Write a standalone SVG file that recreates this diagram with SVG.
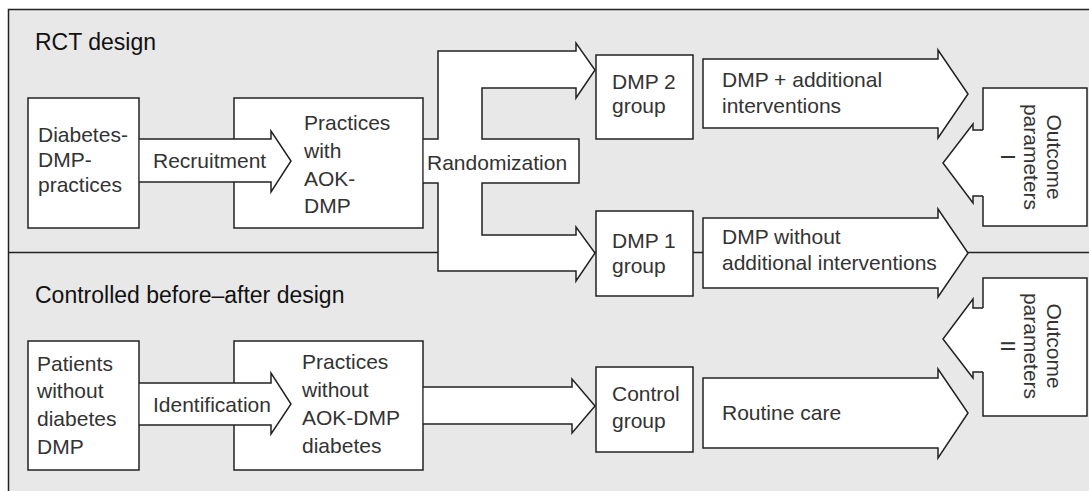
<svg xmlns="http://www.w3.org/2000/svg" width="1089" height="491" viewBox="0 0 1089 491">
<style>
.panel{fill:#e8e8e8;stroke:#222;stroke-width:1.5}
.box{fill:#fff;stroke:#222;stroke-width:1.5}
.afill{fill:#fff;stroke:none}
.aline{fill:none;stroke:#222;stroke-width:1.5;stroke-linejoin:miter}
.arrow{fill:#fff;stroke:#222;stroke-width:1.5;stroke-linejoin:miter}
.t{font-family:"Liberation Sans",Arial,Helvetica,sans-serif;font-size:21px;fill:#333}
.h{font-family:"Liberation Sans",Arial,Helvetica,sans-serif;font-size:23px;fill:#111}
</style>
<rect class="panel" x="8.5" y="9.5" width="1100" height="500"/>
<line x1="8.5" y1="252.5" x2="1089" y2="252.5" stroke="#222" stroke-width="1.5"/>
<text class="h" x="35" y="50">RCT design</text>
<text class="h" x="35" y="303">Controlled before–after design</text>

<g id="n-diabetes-dmp-practices">
<rect class="box" x="28" y="98" width="111" height="130"/>
<text class="t"><tspan x="38" y="142">Diabetes-</tspan><tspan x="38" y="167">DMP-</tspan><tspan x="38" y="192">practices</tspan></text>
</g>
<g id="n-practices-aok">
<rect class="box" x="234" y="98" width="189" height="130"/>
</g>
<g id="n-dmp2">
<rect class="box" x="596" y="55" width="97" height="84"/>
<text class="t"><tspan x="612" y="89">DMP 2</tspan><tspan x="612" y="113">group</tspan></text>
</g>
<g id="n-dmp1">
<rect class="box" x="596" y="211" width="97" height="85"/>
<text class="t"><tspan x="612" y="248">DMP 1</tspan><tspan x="612" y="273">group</tspan></text>
</g>
<g id="n-outcome1">
<rect class="box" x="983" y="88" width="104" height="138"/>
</g>
<g id="n-patients">
<rect class="box" x="28" y="341" width="111" height="129"/>
<text class="t"><tspan x="37" y="371">Patients</tspan><tspan x="37" y="398">without</tspan><tspan x="37" y="426">diabetes</tspan><tspan x="37" y="454">DMP</tspan></text>
</g>
<g id="n-practices-without">
<rect class="box" x="234" y="341" width="189" height="129"/>
</g>
<g id="n-control">
<rect class="box" x="596" y="367" width="97" height="85"/>
<text class="t"><tspan x="612" y="401">Control</tspan><tspan x="612" y="428">group</tspan></text>
</g>
<g id="n-outcome2">
<rect class="box" x="983" y="278" width="104" height="138"/>
</g>

<g id="connectors">
<g id="c-recruitment">
<path class="afill" d="M139.8,139 H271 V131 L291,161 L271,192 V182 H139.8 Z"/>
<path class="aline" d="M139,139 H271 V131 L291,161 L271,192 V182 H139"/>
<text class="t" x="153" y="168">Recruitment</text>
</g>
<g id="c-randomization">
<path class="afill" d="M423.8,139 H438 V51 H576 V43 L595,70 L576,98 V88 H482 V139 H579 V183 H482 V235 H576 V227 L595,253 L576,281 V271 H438 V183 H423.8 Z"/>
<path class="aline" d="M423,139 H438 V51 H576 V43 L595,70 L576,98 V88 H482 V139 H579 V183 H482 V235 H576 V227 L595,253 L576,281 V271 H438 V183 H423"/>
<text class="t" x="427" y="170">Randomization</text>
</g>
<g id="c-dmp-additional">
<path class="arrow" d="M703,59 H938 V50 L968,94 L938,138 V128 H703 Z"/>
<text class="t"><tspan x="722" y="87">DMP + additional</tspan><tspan x="722" y="113">interventions</tspan></text>
</g>
<g id="c-dmp-without">
<path class="arrow" d="M703,218 H938 V209 L968,253 L938,297 V288 H703 Z"/>
<text class="t"><tspan x="722" y="244">DMP without</tspan><tspan x="722" y="270">additional interventions</tspan></text>
</g>
<g id="c-outcome1">
<path class="afill" d="M984.5,130 H973 V124 L943,163 L973,203 V196 H984.5 Z"/>
<path class="aline" d="M983,130 H973 V124 L943,163 L973,203 V196 H983"/>
</g>
<g id="c-identification">
<path class="afill" d="M139.8,383 H271 V373 L291,404 L271,434 V425 H139.8 Z"/>
<path class="aline" d="M139,383 H271 V373 L291,404 L271,434 V425 H139"/>
<text class="t" x="153" y="412">Identification</text>
</g>
<g id="c-control">
<path class="afill" d="M423.8,387 H572 V379 L595,406 L572,433 V424 H423.8 Z"/>
<path class="aline" d="M423,387 H572 V379 L595,406 L572,433 V424 H423"/>
</g>
<g id="c-routine">
<path class="arrow" d="M703,378 H938 V369 L968,413 L938,458 V448 H703 Z"/>
<text class="t" x="722" y="420">Routine care</text>
</g>
<g id="c-outcome2">
<path class="afill" d="M984.5,308 H973 V299 L943,339 L973,378 V372 H984.5 Z"/>
<path class="aline" d="M983,308 H973 V299 L943,339 L973,378 V372 H983"/>
</g>
</g>

<g id="labels">
<text class="t"><tspan x="304" y="130">Practices</tspan><tspan x="304" y="158">with</tspan><tspan x="304" y="186">AOK-</tspan><tspan x="304" y="213">DMP</tspan></text>
<text class="t"><tspan x="302" y="369">Practices</tspan><tspan x="302" y="397">without</tspan><tspan x="302" y="425">AOK-DMP</tspan><tspan x="302" y="453">diabetes</tspan></text>
<text class="t" text-anchor="middle" transform="translate(1047,157) rotate(90)"><tspan x="0" y="0">Outcome</tspan><tspan x="0" y="23">parameters</tspan><tspan x="0" y="46">I</tspan></text>
<text class="t" text-anchor="middle" transform="translate(1047,346) rotate(90)"><tspan x="0" y="0">Outcome</tspan><tspan x="0" y="23">parameters</tspan><tspan x="0" y="46">II</tspan></text>
</g>
</svg>
